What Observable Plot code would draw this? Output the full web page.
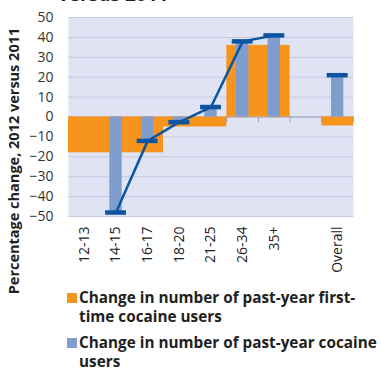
<!DOCTYPE html>
<html>
<head>
<meta charset="utf-8">
<script src="https://cdn.jsdelivr.net/npm/d3@7"></script>
<script src="https://cdn.jsdelivr.net/npm/@observablehq/plot@0.6"></script>
<style>
  html, body { margin: 0; padding: 0; background: #fff; }
  body { width: 382px; height: 372px; position: relative; overflow: hidden; font-family: "Open Sans", sans-serif; color: #231f20; }
  #chart { position: absolute; left: 0; top: 0; }
  #title { position: absolute; left: 58px; top: -15px; font-size: 19px; font-weight: 700; line-height: 19px; white-space: nowrap; }
  #ytitle { position: absolute; left: 14px; top: 161px; transform: translate(-50%, -50%) rotate(-90deg); font-size: 14.5px; font-weight: 700; white-space: nowrap; line-height: 16px; }
  .legend { position: absolute; left: 66px; font-size: 15.3px; font-weight: 700; line-height: 19px; white-space: nowrap; }
  .legend .sw { position: absolute; left: 1px; top: 5px; width: 10px; height: 10px; }
  .legend .tx { position: absolute; left: 13px; top: 0; }
</style>
</head>
<body>
<div id="title">versus 2011</div>
<div id="chart"></div>
<div id="ytitle">Percentage change, 2012 versus 2011</div>
<div class="legend" id="leg1" style="top:288px"><div class="sw" style="background:#f7941d"></div><div class="tx">Change in number of past-year first-<br>time cocaine users</div></div>
<div class="legend" id="leg2" style="top:333px"><div class="sw" style="background:#7f9dcf"></div><div class="tx">Change in number of past-year cocaine<br>users</div></div>
<script>
// Categories (one slot left empty before "Overall")
const categories = ["12-13", "14-15", "16-17", "18-20", "21-25", "26-34", "35+", "", "Overall"];

// Past-year cocaine users, % change per category (blue bars + line markers)
const usersValues = [null, -48, -12, -2.6, 5, 38, 41, null, 21];

// First-time cocaine users: grouped age bands (orange bars)
const firstTimeGroups = ["12-17", "18-25", "26+", "Overall"];
const firstTimeFrom   = ["12-13", "18-20", "26-34", "Overall"];
const firstTimeTo     = ["16-17", "21-25", "35+", "Overall"];
const firstTimeValues = [-18, -5, 36, -4.5];

// Y-axis ticks
const yTicks = [-50, -40, -30, -20, -10, 0, 10, 20, 30, 40, 50];

const orange = "#f7941d";
const blue = "#7f9dcf";
const dark = "#0d55a0";

const idx = c => categories.indexOf(c);
const firstTime = firstTimeGroups.map((g, k) => ({
  group: g,
  start: idx(firstTimeFrom[k]),
  end: idx(firstTimeTo[k]) + 1,
  value: firstTimeValues[k]
}));
const users = categories.map((c, i) => ({cat: c, i, value: usersValues[i]})).filter(d => d.value != null);
const lineData = users.filter(d => d.cat !== "Overall");

const barHalf = 0.195, markHalf = 0.33;

const chart = Plot.plot({
  width: 382,
  height: 282,
  marginLeft: 68,
  marginRight: 29,
  marginTop: 17,
  marginBottom: 66,
  style: {fontFamily: "Open Sans, sans-serif", fontSize: "14px", color: "#333"},
  x: {type: "linear", domain: [0, categories.length], axis: null},
  y: {domain: [-50, 50], axis: null},
  marks: [
    Plot.frame({fill: "#e0e3f3", stroke: null}),
    Plot.gridY(yTicks, {stroke: "#c6cadf", strokeOpacity: 1}),
    Plot.ruleX(d3.range(categories.length + 1), {y1: 0, y2: -2.8, stroke: "#9ea1b5"}),
    Plot.ruleY([0], {stroke: "#9ea1b5"}),
    Plot.rectY(firstTime, {x1: "start", x2: "end", y: "value", fill: orange}),
    Plot.rectY(users, {x1: d => d.i + 0.5 - barHalf, x2: d => d.i + 0.5 + barHalf, y: "value", fill: blue}),
    Plot.line(lineData, {x: d => d.i + 0.5, y: "value", stroke: dark, strokeWidth: 2.5}),
    Plot.ruleY(users, {y: "value", x1: d => d.i + 0.5 - markHalf, x2: d => d.i + 0.5 + markHalf, stroke: dark, strokeWidth: 4.5}),
    Plot.axisY(yTicks, {tickSize: 0, tickPadding: 15, fill: "#333", fontSize: 14, label: null}),
    Plot.axisX(categories.map((c, i) => i + 0.5), {
      tickSize: 0, tickPadding: 10, tickRotate: -90, fill: "#222", fontSize: 14, label: null,
      tickFormat: d => categories[Math.floor(d)]
    })
  ]
});
document.getElementById("chart").appendChild(chart);
</script>
</body>
</html>
